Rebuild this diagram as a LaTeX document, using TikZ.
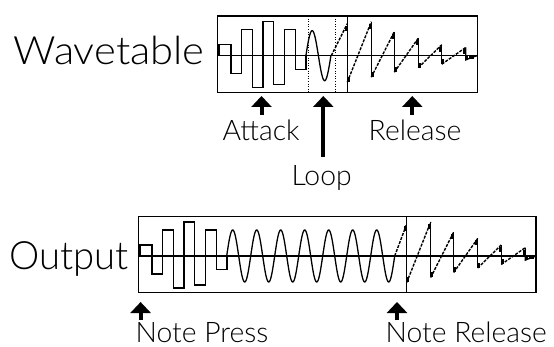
\documentclass[tikz,border=0pt]{standalone}
\usepackage{graphicx}
\usepackage{fontspec}
\setmainfont{Liberation Sans}
\IfFontExistsTF{Lato Light}
  {\newfontfamily\labelfont{Lato Light}}
  {\newfontfamily\labelfont{Liberation Sans}}
\usetikzlibrary{arrows.meta}

% attack segment: growing square wave, drawn from the box origin (y up)
\newcommand\attackwave{%
  \fill (0,0) rectangle (2.6,11);
  \draw[wave] (0,11) -- (13.7,11) -- (13.7,-18) -- (24.4,-18) -- (24.4,26)
    -- (35.1,26) -- (35.1,-32) -- (45.8,-32) -- (45.8,34) -- (56.5,34)
    -- (56.5,-29) -- (67.2,-29) -- (67.2,26) -- (77.9,26) -- (77.9,-13.5)
    -- (88.6,-13.5) -- (88.6,0);
}

% release segment: decaying sawtooth, drawn from the divider (y up);
% #1 = where the first ramp leaves the axis
\newcommand\releasewave[1]{%
  \draw[ramp] (#1,0) -- (0,32);
  \draw[wave] (0,32) -- (0,-26.5);
  \draw[ramp] (0,-26.5) -- (24,34);
  \draw[wave] (24,34) -- (24,-21.5);
  \draw[ramp] (24,-21.5) -- (47,24);
  \draw[wave] (47,24) -- (47,-16.5);
  \draw[ramp] (47,-16.5) -- (71,17.5);
  \draw[wave] (71,17.5) -- (71,-12);
  \draw[ramp] (71,-12) -- (94.5,11);
  \draw[wave] (94.5,11) -- (94.5,-8.5);
  \draw[ramp] (94.5,-8.5) -- (118.5,8.3);
  \draw[wave] (118.5,8.3) -- (118.5,-4.2) -- (125,-1.5) -- (130,0);
  \foreach \px/\pt/\pb in {0/32/-26.5, 24/34/-21.5, 47/24/-16.5,
                          71/17.5/-12, 94.5/11/-8.5, 118.5/8.3/-4.2}{
    \fill (\px-2.4,\pt-2) rectangle (\px,\pt-7);
    \fill (\px,\pb) rectangle (\px+2.4,\pb+5);
  }
  \fill (122,-0.5) rectangle (127,-3.5);
}

\begin{document}
\begin{tikzpicture}[x=1pt,y=-1pt,
  frame/.style={draw=black,line width=1.2pt},
  axisline/.style={line width=1.5pt},
  wave/.style={line width=1.3pt,line join=miter},
  ramp/.style={line width=1.4pt,dash pattern=on 3pt off 1.3pt},
  loopmark/.style={line width=1pt,dash pattern=on 1pt off 1.6pt},
  bigtext/.style={inner sep=0pt,anchor=base west,font=\labelfont\fontsize{39}{39}\selectfont},
  smalltext/.style={inner sep=0pt,anchor=base west,font=\labelfont\fontsize{28.3}{28.3}\selectfont},
  uparrow/.style={line width=4pt,-{Triangle[width=20pt,length=11pt]}}]

\useasboundingbox (0,0) rectangle (554,347);

% ---------- wavetable ----------
\node[bigtext] (wt) at (13.5,65) {\scalebox{1.07}[1]{Wavetable}};
\draw[frame] (217.3,16) rectangle (477.7,92.3);
\draw[axisline] (217.3,55.7) -- (477.7,55.7);
\draw[loopmark] (308.3,16) -- (308.3,92.3);
\draw[loopmark] (335,16) -- (335,92.3);
\draw[frame] (347.3,16) -- (347.3,92.3);
\begin{scope}[shift={(217.3,55.7)},yscale=-1]
  \attackwave
  \draw[wave] plot[domain=0:25,samples=60,smooth] ({88.6+\x},{25*sin(14.4*\x)});
  \begin{scope}[shift={(130,0)}]
    \releasewave{-16}
  \end{scope}
\end{scope}

% ---------- output ----------
\node[bigtext] (out) at (9,270) {\scalebox{0.98}[1]{Output}};
\draw[frame] (138.3,216.7) rectangle (536,292.7);
\draw[axisline] (138.3,256) -- (536,256);
\draw[frame] (406.7,216.7) -- (406.7,292.7);
\begin{scope}[shift={(138.3,256)},yscale=-1]
  \attackwave
  \draw[wave] plot[domain=0:168,samples=400,smooth] ({88.4+\x},{26*sin(15*\x)});
  \begin{scope}[shift={(268.4,0)}]
    \releasewave{-12}
  \end{scope}
\end{scope}

% ---------- labels and pointers ----------
\node[smalltext] (attack) at (222.5,141) {Attack};
\node[smalltext] (loop) at (291.3,186) {Loop};
\node[smalltext] (release) at (368.5,141) {Release};
\node[smalltext] (press) at (135.5,342) {Note Press};
\node[smalltext] (noterel) at (385.5,342) {Note Release};

\coordinate (attackTail) at (261.5,115);
\coordinate (attackTip) at (261.5,96);
\coordinate (loopTail) at (323.3,157);
\coordinate (loopTip) at (323.3,96);
\coordinate (releaseTail) at (412.3,115);
\coordinate (releaseTip) at (412.3,96);
\coordinate (pressTail) at (140.6,320);
\coordinate (pressTip) at (140.6,302);
\coordinate (noterelTail) at (397,320);
\coordinate (noterelTip) at (397,302);

\draw[uparrow] (attackTail) -- (attackTip);
\draw[uparrow] (loopTail) -- (loopTip);
\draw[uparrow] (releaseTail) -- (releaseTip);
\draw[uparrow] (pressTail) -- (pressTip);
\draw[uparrow] (noterelTail) -- (noterelTip);
\end{tikzpicture}
\end{document}
